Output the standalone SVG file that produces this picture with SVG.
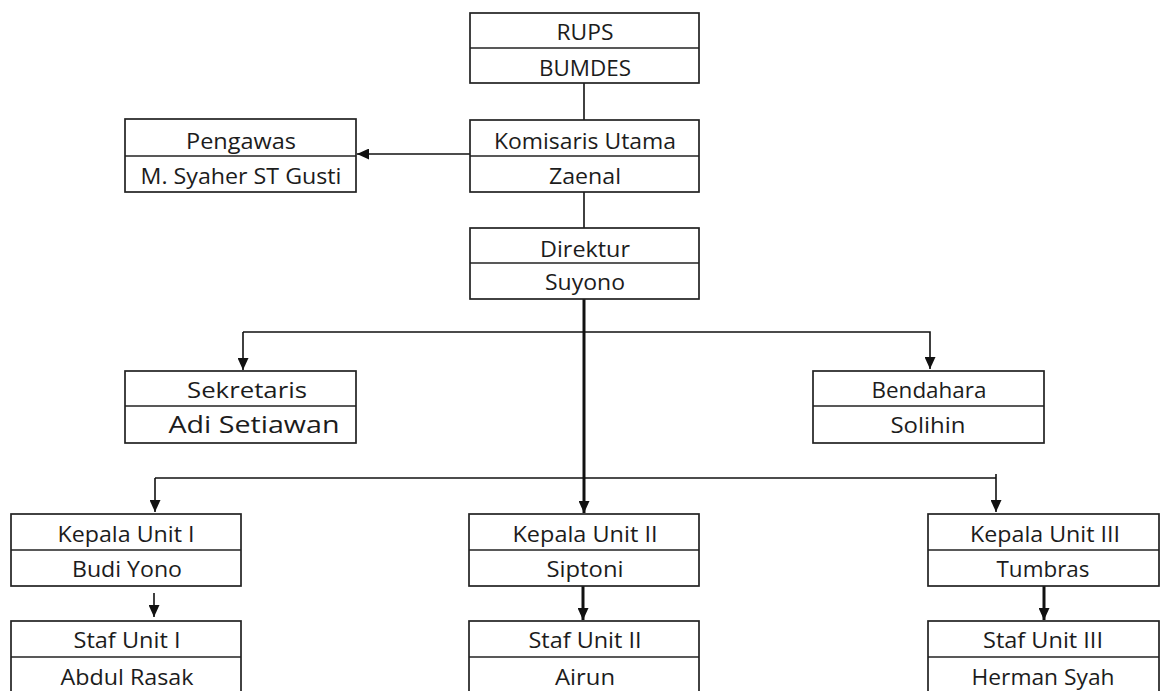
<svg xmlns="http://www.w3.org/2000/svg" width="1162" height="691" viewBox="0 0 1162 691">
<defs>
<style>
.box{fill:#fff;stroke:#222;stroke-width:1.7}
.div{stroke:#222;stroke-width:1.7}
.t{font-family:"Open Sans","Noto Sans",sans-serif;font-size:21px;fill:#1c1c1c;text-anchor:middle}
.c{fill:none;stroke:#111;stroke-width:1.6}
.ck{fill:none;stroke:#111;stroke-width:3}
</style>
<marker id="ah" markerUnits="userSpaceOnUse" markerWidth="12" markerHeight="11" refX="12" refY="5.5" orient="auto" viewBox="0 0 12 11">
<path d="M0,0 L12,5.5 L0,11 z" fill="#111"/>
</marker>
</defs>
<rect width="1162" height="691" fill="#fff"/>
<g id="connectors">
<line class="c" x1="584" y1="83" x2="584" y2="120"/>
<line class="c" x1="584" y1="192" x2="584" y2="228"/>
<line class="c" x1="470" y1="154" x2="357" y2="154" marker-end="url(#ah)"/>
<line class="ck" x1="584" y1="299" x2="584" y2="513" marker-end="url(#ah)"/>
<polyline class="c" points="243,332 930,332 930,369" marker-end="url(#ah)"/>
<line class="c" x1="243" y1="332" x2="243" y2="370" marker-end="url(#ah)"/>
<line class="c" x1="155" y1="478" x2="996" y2="478"/>
<line class="c" x1="155" y1="478" x2="155" y2="512" marker-end="url(#ah)"/>
<line class="c" x1="996" y1="474" x2="996" y2="512" marker-end="url(#ah)"/>
<line class="c" x1="154" y1="593" x2="154" y2="617" marker-end="url(#ah)"/>
<line class="ck" x1="583" y1="586" x2="583" y2="620" marker-end="url(#ah)"/>
<line class="ck" x1="1044" y1="586" x2="1044" y2="620" marker-end="url(#ah)"/>
</g>
<g id="rups">
<rect class="box" x="470" y="13" width="229" height="70"/>
<line class="div" x1="470" y1="48" x2="699" y2="48"/>
<text class="t" x="585" y="40" textLength="57" lengthAdjust="spacingAndGlyphs">RUPS</text>
<text class="t" x="585" y="76" textLength="92" lengthAdjust="spacingAndGlyphs">BUMDES</text>
</g>
<g id="komisaris">
<rect class="box" x="470" y="120" width="229" height="72"/>
<line class="div" x1="470" y1="156" x2="699" y2="156"/>
<text class="t" x="585" y="149" textLength="182" lengthAdjust="spacingAndGlyphs">Komisaris Utama</text>
<text class="t" x="585" y="184" textLength="72" lengthAdjust="spacingAndGlyphs">Zaenal</text>
</g>
<g id="pengawas">
<rect class="box" x="125" y="119" width="231" height="73"/>
<line class="div" x1="125" y1="156" x2="356" y2="156"/>
<text class="t" x="241" y="149" textLength="110" lengthAdjust="spacingAndGlyphs">Pengawas</text>
<text class="t" x="241" y="184" textLength="201" lengthAdjust="spacingAndGlyphs">M. Syaher ST Gusti</text>
</g>
<g id="direktur">
<rect class="box" x="470" y="228" width="229" height="71"/>
<line class="div" x1="470" y1="263" x2="699" y2="263"/>
<text class="t" x="585" y="257" textLength="90" lengthAdjust="spacingAndGlyphs">Direktur</text>
<text class="t" x="585" y="290" textLength="80" lengthAdjust="spacingAndGlyphs">Suyono</text>
</g>
<g id="sekretaris">
<rect class="box" x="125" y="371" width="231" height="72"/>
<line class="div" x1="125" y1="406" x2="356" y2="406"/>
<text class="t" x="247" y="398" style="font-size:22px" textLength="120" lengthAdjust="spacingAndGlyphs">Sekretaris</text>
<text class="t" x="254" y="433" style="font-size:23px" textLength="171" lengthAdjust="spacingAndGlyphs">Adi Setiawan</text>
</g>
<g id="bendahara">
<rect class="box" x="813" y="371" width="231" height="72"/>
<line class="div" x1="813" y1="406" x2="1044" y2="406"/>
<text class="t" x="929" y="398" textLength="115" lengthAdjust="spacingAndGlyphs">Bendahara</text>
<text class="t" x="928" y="433" textLength="75" lengthAdjust="spacingAndGlyphs">Solihin</text>
</g>
<g id="kepala1">
<rect class="box" x="11" y="514" width="230" height="72"/>
<line class="div" x1="11" y1="550" x2="241" y2="550"/>
<text class="t" x="126" y="542" textLength="137" lengthAdjust="spacingAndGlyphs">Kepala Unit I</text>
<text class="t" x="127" y="577" textLength="110" lengthAdjust="spacingAndGlyphs">Budi Yono</text>
</g>
<g id="kepala2">
<rect class="box" x="469" y="514" width="230" height="72"/>
<line class="div" x1="469" y1="550" x2="699" y2="550"/>
<text class="t" x="585" y="542" textLength="145" lengthAdjust="spacingAndGlyphs">Kepala Unit II</text>
<text class="t" x="585" y="577" textLength="77" lengthAdjust="spacingAndGlyphs">Siptoni</text>
</g>
<g id="kepala3">
<rect class="box" x="928" y="514" width="231" height="72"/>
<line class="div" x1="928" y1="550" x2="1159" y2="550"/>
<text class="t" x="1045" y="542" textLength="150" lengthAdjust="spacingAndGlyphs">Kepala Unit III</text>
<text class="t" x="1043" y="577" textLength="93" lengthAdjust="spacingAndGlyphs">Tumbras</text>
</g>
<g id="staf1">
<rect class="box" x="11" y="621" width="230" height="74"/>
<line class="div" x1="11" y1="657" x2="241" y2="657"/>
<text class="t" x="127" y="648" textLength="107" lengthAdjust="spacingAndGlyphs">Staf Unit I</text>
<text class="t" x="127" y="685" textLength="133" lengthAdjust="spacingAndGlyphs">Abdul Rasak</text>
</g>
<g id="staf2">
<rect class="box" x="469" y="621" width="230" height="74"/>
<line class="div" x1="469" y1="657" x2="699" y2="657"/>
<text class="t" x="585" y="648" textLength="113" lengthAdjust="spacingAndGlyphs">Staf Unit II</text>
<text class="t" x="585" y="685" textLength="60" lengthAdjust="spacingAndGlyphs">Airun</text>
</g>
<g id="staf3">
<rect class="box" x="928" y="621" width="231" height="74"/>
<line class="div" x1="928" y1="657" x2="1159" y2="657"/>
<text class="t" x="1043" y="648" textLength="120" lengthAdjust="spacingAndGlyphs">Staf Unit III</text>
<text class="t" x="1043" y="685" textLength="143" lengthAdjust="spacingAndGlyphs">Herman Syah</text>
</g>
</svg>
